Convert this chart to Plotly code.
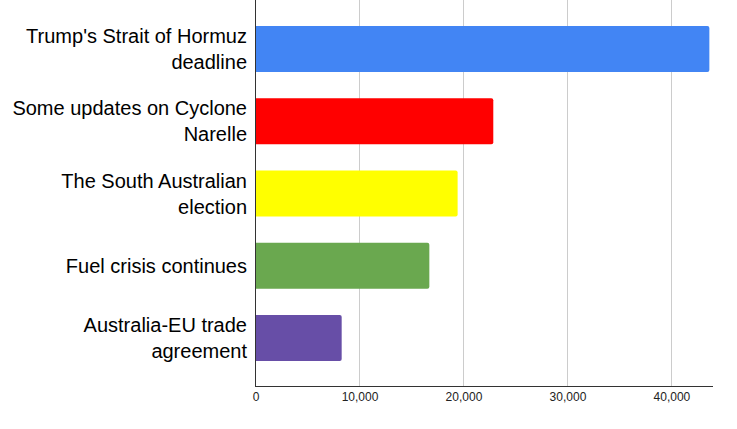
import plotly.graph_objects as go

categories = ["Trump's Strait of Hormuz<br>deadline",
              "Some updates on Cyclone<br>Narelle",
              "The South Australian<br>election",
              "Fuel crisis continues",
              "Australia-EU trade<br>agreement"]
values = [43600, 22820, 19390, 16670, 8240]
colors = ["#4285F4", "#FF0000", "#FFFF00", "#6AA84F", "#674EA7"]
x_ticks = [0, 10000, 20000, 30000, 40000]
x_tick_labels = ["0", "10,000", "20,000", "30,000", "40,000"]

fig = go.Figure(go.Bar(
    x=values, y=categories, orientation="h",
    marker=dict(color=colors, line=dict(width=0), cornerradius=2),
    width=0.635,
))

fig.update_layout(
    width=737, height=429,
    margin=dict(l=256, r=24, t=0, b=43, autoexpand=False),
    paper_bgcolor="white", plot_bgcolor="white",
    font=dict(family="Arial, Liberation Sans, sans-serif", color="#222222"),
    showlegend=False,
)
fig.update_xaxes(
    range=[0, 43950], tickvals=x_ticks, ticktext=x_tick_labels,
    showgrid=True, gridcolor="#CCCCCC", gridwidth=1,
    showline=True, linecolor="#333333", linewidth=1,
    zeroline=False, ticks="", tickfont=dict(size=12, color="#222222"),
    automargin=False,
)
fig.update_yaxes(
    type="category", range=[4.664, -0.678],
    showgrid=False, showline=True, linecolor="#333333", linewidth=1,
    ticks="", tickfont=dict(size=20, color="#000000"),
    ticklabelstandoff=4, automargin=False,
)

fig.write_html("out.html", post_script="document.body.style.margin='0';",
               config={"displayModeBar": False})
